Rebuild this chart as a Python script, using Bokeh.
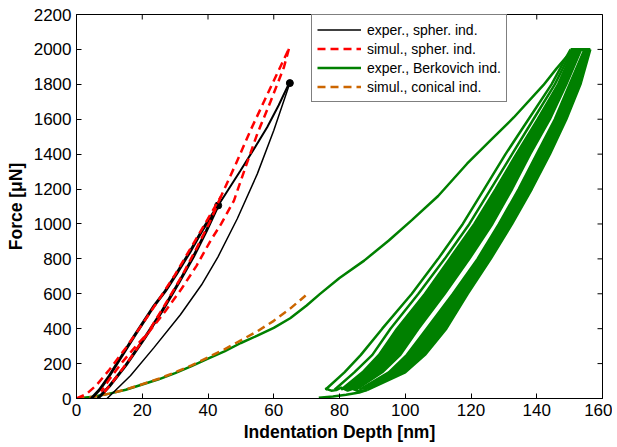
import math
from bokeh.plotting import figure
from bokeh.models import Range1d, FixedTicker, Legend, LegendItem
from bokeh.embed import file_html
from bokeh.resources import INLINE

# ---------------- data ----------------
x_ticks = [0, 20, 40, 60, 80, 100, 120, 140, 160]
y_ticks = [0, 200, 400, 600, 800, 1000, 1200, 1400, 1600, 1800, 2000, 2200]
x_max = 160
y_max = 2200

# experimental, spherical indenter (black)
sph_load1_x = [4.5, 7, 10, 14.2, 18, 23.3, 27, 30.4, 34.5, 38.5, 43.1]
sph_load1_y = [0, 50, 130, 256, 370, 523, 615, 714, 840, 972, 1106]
sph_unload1_x = [43.1, 39.5, 35.5, 31, 26, 20.5, 15, 10, 6.5]
sph_unload1_y = [1106, 960, 810, 660, 500, 340, 190, 70, 0]
sph_reload_x = [43.1, 46.5, 49.9, 54, 58, 61.5, 64.6]
sph_reload_y = [1106, 1206, 1306, 1430, 1554, 1680, 1803]
sph_unload2_x = [64.9, 60, 55, 48.9, 43, 38, 31.6, 23.5, 16.4, 9.3]
sph_unload2_y = [1807, 1535, 1287, 1030, 810, 650, 480, 290, 130, 0]
sph_peak_x = [43.1, 64.9]
sph_peak_y = [1106, 1807]

# simulation, spherical indenter (red dashed)
sim_load_x = [0, 3, 6, 10, 15, 20, 25, 30, 35, 40, 44, 48.5, 52.9, 58.5, 64.6]
sim_load_y = [0, 25, 75, 165, 290, 425, 565, 710, 870, 1030, 1160, 1345, 1535, 1760, 2003]
sim_unload1_x = [44, 40.5, 36.5, 32, 27, 21.5, 16, 11, 7.5]
sim_unload1_y = [1160, 1010, 860, 700, 540, 370, 220, 95, 15]
sim_unload2_x = [64.6, 63.1, 59, 55, 51.5, 47.9, 44, 40.8, 36.5, 32, 27, 22, 18.5, 14, 10, 7.5]
sim_unload2_y = [2003, 1898, 1700, 1517, 1330, 1134, 1000, 905, 760, 630, 500, 380, 310, 210, 110, 40]

# experimental, Berkovich indenter (green)
berk_load_x = [0, 5, 10, 15, 20, 25, 30, 35, 40, 45, 50, 55, 60, 65, 70, 74, 80, 87.5, 95, 102, 110, 118.8, 126, 133, 142, 146, 151]
berk_load_y = [0, 10, 28, 50, 80, 110, 145, 185, 228, 270, 318, 360, 405, 460, 533, 598, 690, 790, 905, 1022, 1160, 1345, 1480, 1610, 1795, 1890, 2000]
berk_top_x = [150.3, 156.3]
berk_top_y = [2000, 2000]
band_y = [2000, 1800, 1600, 1400, 1200, 1000, 800, 600, 400, 250, 150, 50]
band_l1 = [150.3, 144.5, 137.5, 130.5, 124.0, 117.5, 110.0, 102.0, 93.0, 86.5, 81.5, 75.7]
band_l2 = [150.8, 145.5, 139.0, 132.5, 126.0, 119.5, 112.0, 104.0, 95.5, 90.0, 84.5, 78.5]
band_al = [151.2, 146.5, 140.3, 133.8, 127.5, 121.0, 113.5, 106.0, 97.5, 92.0, 87.0, 80.5]
band_ar = [153.5, 149.0, 144.0, 138.0, 132.5, 126.5, 119.5, 112.0, 104.0, 98.5, 93.0, 85.0]
band_bl = [154.5, 150.0, 145.5, 140.0, 134.5, 128.5, 122.0, 114.5, 106.5, 100.5, 95.0, 86.0]
band_br = [156.3, 153.3, 149.0, 144.0, 138.5, 132.5, 126.0, 119.0, 112.5, 106.0, 100.0, 88.5]
hook_x = [75.7, 77.5, 79.0, 80.5, 82.5, 84.0, 86.0, 88.5]
hook_y = [57, 45, 48, 62, 45, 55, 40, 50]
tail_x = [73.7, 78, 82, 86, 88.5]
tail_y = [5, 12, 22, 34, 50]

# simulation, conical indenter (orange dashed)
cone_x = [0, 5, 10, 15, 20, 25, 30, 35, 40, 45, 50, 55, 60, 65, 69.7]
cone_y = [0, 10, 28, 52, 82, 113, 150, 190, 235, 282, 333, 385, 445, 515, 590]

legend_labels = ["exper., spher. ind.", "simul., spher. ind.",
                 "exper., Berkovich ind.", "simul., conical ind."]

BLACK = "black"
RED = "#ff0000"
GREEN = "#008000"
ORANGE = "#cc6600"
FONT = "Liberation Sans"

# ---------------- figure ----------------
p = figure(width=612, height=445, x_range=Range1d(0, x_max), y_range=Range1d(0, y_max),
           output_backend="svg", toolbar_location=None,
           min_border_left=76, min_border_right=10, min_border_top=14, min_border_bottom=47)
p.xgrid.visible = False
p.ygrid.visible = False
p.outline_line_color = "black"
p.outline_line_width = 1
p.background_fill_color = "white"

# green band
p.harea(x1=band_al, x2=band_ar, y=band_y, fill_color=GREEN)
p.harea(x1=band_bl, x2=band_br, y=band_y, fill_color=GREEN)
for bx in (band_l1, band_l2, band_al, band_ar, band_bl, band_br):
    p.line(bx, band_y, line_color=GREEN, line_width=2.5)
p.line(hook_x, hook_y, line_color=GREEN, line_width=2.5)
p.line(tail_x, tail_y, line_color=GREEN, line_width=2.5)
p.line(berk_top_x, berk_top_y, line_color=GREEN, line_width=3)
r_berk = p.line(berk_load_x, berk_load_y, line_color=GREEN, line_width=2.5)

# orange conical simulation
r_cone = p.line(cone_x, cone_y, line_color=ORANGE, line_width=2.5, line_dash="8 5")

# black experimental spherical
p.line(sph_load1_x, sph_load1_y, line_color=BLACK, line_width=3)
p.line(sph_unload1_x, sph_unload1_y, line_color=BLACK, line_width=3)
p.line(sph_reload_x, sph_reload_y, line_color=BLACK, line_width=2)
r_sph = p.line(sph_unload2_x, sph_unload2_y, line_color=BLACK, line_width=1.5)
p.scatter(sph_peak_x, sph_peak_y, size=7, color=BLACK)

# red dashed simulation spherical
r_sim = p.line(sim_load_x, sim_load_y, line_color=RED, line_width=2.5, line_dash="8 5")
p.line(sim_unload1_x, sim_unload1_y, line_color=RED, line_width=2.5, line_dash="8 5")
p.line(sim_unload2_x, sim_unload2_y, line_color=RED, line_width=2.5, line_dash="8 5")

# inward ticks on the top and right edges (box on), clipped to the frame
p.scatter(x_ticks, [y_max] * len(x_ticks), marker="dash", size=10, angle=math.pi / 2,
          line_color=BLACK, line_width=1)
p.scatter([x_max] * len(y_ticks), y_ticks, marker="dash", size=10,
          line_color=BLACK, line_width=1)

# ---------------- axes ----------------
for ax in (p.xaxis[0], p.yaxis[0]):
    ax.major_tick_in = 5
    ax.major_tick_out = 0
    ax.minor_tick_in = 0
    ax.minor_tick_out = 0
    ax.axis_line_color = "black"
    ax.major_tick_line_color = "black"
    ax.major_label_text_font = FONT
    ax.major_label_text_font_size = "17px"
    ax.major_label_text_color = "black"
    ax.axis_label_text_font = FONT
    ax.axis_label_text_font_size = "17.5px"
    ax.axis_label_text_font_style = "bold"
    ax.axis_label_text_color = "black"
p.xaxis[0].ticker = FixedTicker(ticks=x_ticks)
p.yaxis[0].ticker = FixedTicker(ticks=y_ticks)
p.xaxis[0].axis_label = "Indentation Depth [nm]"
p.yaxis[0].axis_label = "Force [μN]"
p.xaxis[0].major_label_standoff = 5
p.xaxis[0].axis_label_standoff = 3
p.yaxis[0].major_label_standoff = 5
p.yaxis[0].axis_label_standoff = 5

# ---------------- legend ----------------
legend = Legend(items=[LegendItem(label=legend_labels[0], renderers=[r_sph]),
                       LegendItem(label=legend_labels[1], renderers=[r_sim]),
                       LegendItem(label=legend_labels[2], renderers=[r_berk]),
                       LegendItem(label=legend_labels[3], renderers=[r_cone])],
                location=(235, 296), orientation="vertical")
legend.label_text_font = FONT
legend.label_text_font_size = "14px"
legend.label_text_color = "black"
legend.border_line_color = "black"
legend.border_line_width = 1
legend.background_fill_alpha = 1
legend.padding = 5
legend.spacing = 0
legend.margin = 0
legend.glyph_width = 44
legend.glyph_height = 19
legend.label_height = 19
legend.label_standoff = 6
p.add_layout(legend, "center")

open("out.html", "w").write(file_html(p, INLINE))
